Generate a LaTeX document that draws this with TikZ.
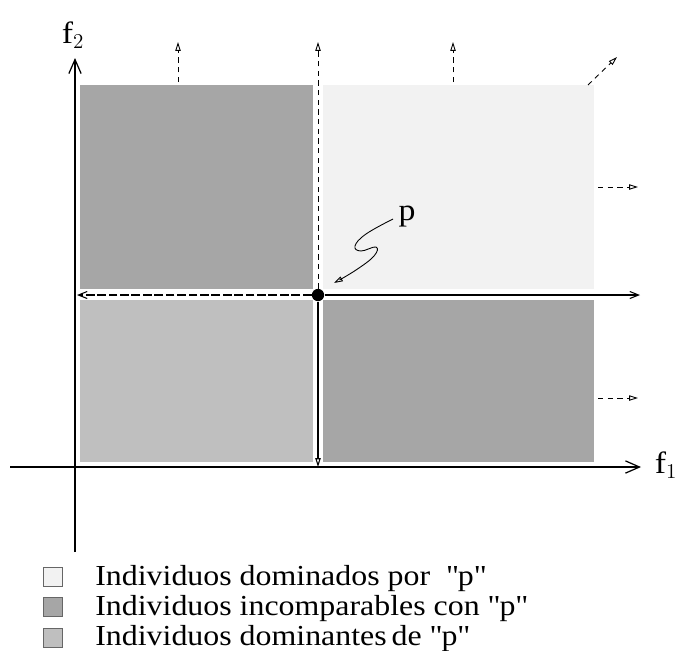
\documentclass[tikz,border=0pt]{standalone}
\usepackage{fontspec}
\setmainfont{Liberation Serif}
\newfontfamily\keyfont[FakeStretch=1.1]{Liberation Serif}
\usetikzlibrary{arrows.meta,positioning}
\definecolor{domcolor}{gray}{0.95}
\definecolor{inccolor}{gray}{0.65}
\definecolor{dntcolor}{gray}{0.75}
\tikzset{
	axis/.style={line width=0.7pt,-{Straight Barb[length=8pt,width=7pt]}},
	dirarrow/.style={line width=0.5pt,dash pattern=on 3pt off 2.5pt,-{Triangle[open,length=5pt,width=3pt]}},
	keybox/.style={draw=black!60,line width=0.6pt,minimum size=10.5pt,inner sep=0pt},
	keytext/.style={font=\keyfont\fontsize{16.5}{20}\selectfont,inner sep=0pt,anchor=base west},
	bigtext/.style={font=\keyfont\fontsize{17.5}{21}\selectfont},
}
\newcommand{\qq}{\textquotedbl}
\begin{document}
\begin{tikzpicture}[x=0.02cm,y=-0.02cm]
			\useasboundingbox (0,0) rectangle (682,650);
			% regions
			\fill[inccolor] (80,85) rectangle (313,289);
			\fill[domcolor] (323,85) rectangle (594,289);
			\fill[dntcolor] (80,300) rectangle (313,462);
			\fill[inccolor] (323,300) rectangle (594,462);
			% axes
			\coordinate (xbeg) at (10,467);
			\coordinate (xend) at (641,467);
			\coordinate (ybeg) at (75,552);
			\coordinate (yend) at (75,58);
			\draw[axis] (xbeg) -- (xend);
			\draw[axis] (ybeg) -- (yend);
			\node[bigtext] (f1) at (666,465) {f$_1$};
			\node[bigtext] (f2) at (73,35) {f$_2$};
			% the point p
			\node[circle,fill=black,inner sep=0pt,minimum size=7pt] (p) at (318,295) {};
			\coordinate (pleft) at (77,295);
			\coordinate (pright) at (640,295);
			\coordinate (ptop) at (318,42);
			\coordinate (pbot) at (318,467);
			\draw[line width=0.6pt,dash pattern=on 5pt off 1.5pt,-{Straight Barb[length=5pt,width=4pt]}] (p) -- (pleft);
			\draw[line width=0.6pt,-{Straight Barb[length=5pt,width=4pt]}] (p) -- (pright);
			\draw[dirarrow] (p) -- (ptop);
			\draw[line width=0.6pt,-{Triangle[open,length=5pt,width=3pt]}] (p) -- (pbot);
			% directions of the dominated region
			\draw[dirarrow] (178,82) -- (178,42);
			\draw[dirarrow] (453,82) -- (453,42);
			\draw[dirarrow] (588,85) -- (617,57);
			\draw[dirarrow] (598,187) -- (638,187);
			\draw[dirarrow] (598,398) -- (638,398);
			% label of p
			\node[bigtext] (plabel) at (407,217) {p};
			\draw[line width=0.5pt,-{Triangle[open,length=5pt,width=3pt]}] plot[smooth,tension=0.7] coordinates {(393,219) (366,234) (355,246) (361,251) (376,247) (374,256) (356,270) (334,283)};
			% key
			\node[keybox,fill=domcolor] (k1) at (53,577) {};
			\node[keybox,fill=inccolor] (k2) at (53,607) {};
			\node[keybox,fill=dntcolor] (k3) at (53,638) {};
			\node[keytext] (t1) at (95,585) {Individuos dominados por \ \qq p\qq};
			\node[keytext] (t2) at (95,615) {Individuos incomparables con \qq p\qq};
			\node[keytext] (t3) at (95,645) {Individuos dominantes\,de \qq p\qq};
\end{tikzpicture}
\end{document}
